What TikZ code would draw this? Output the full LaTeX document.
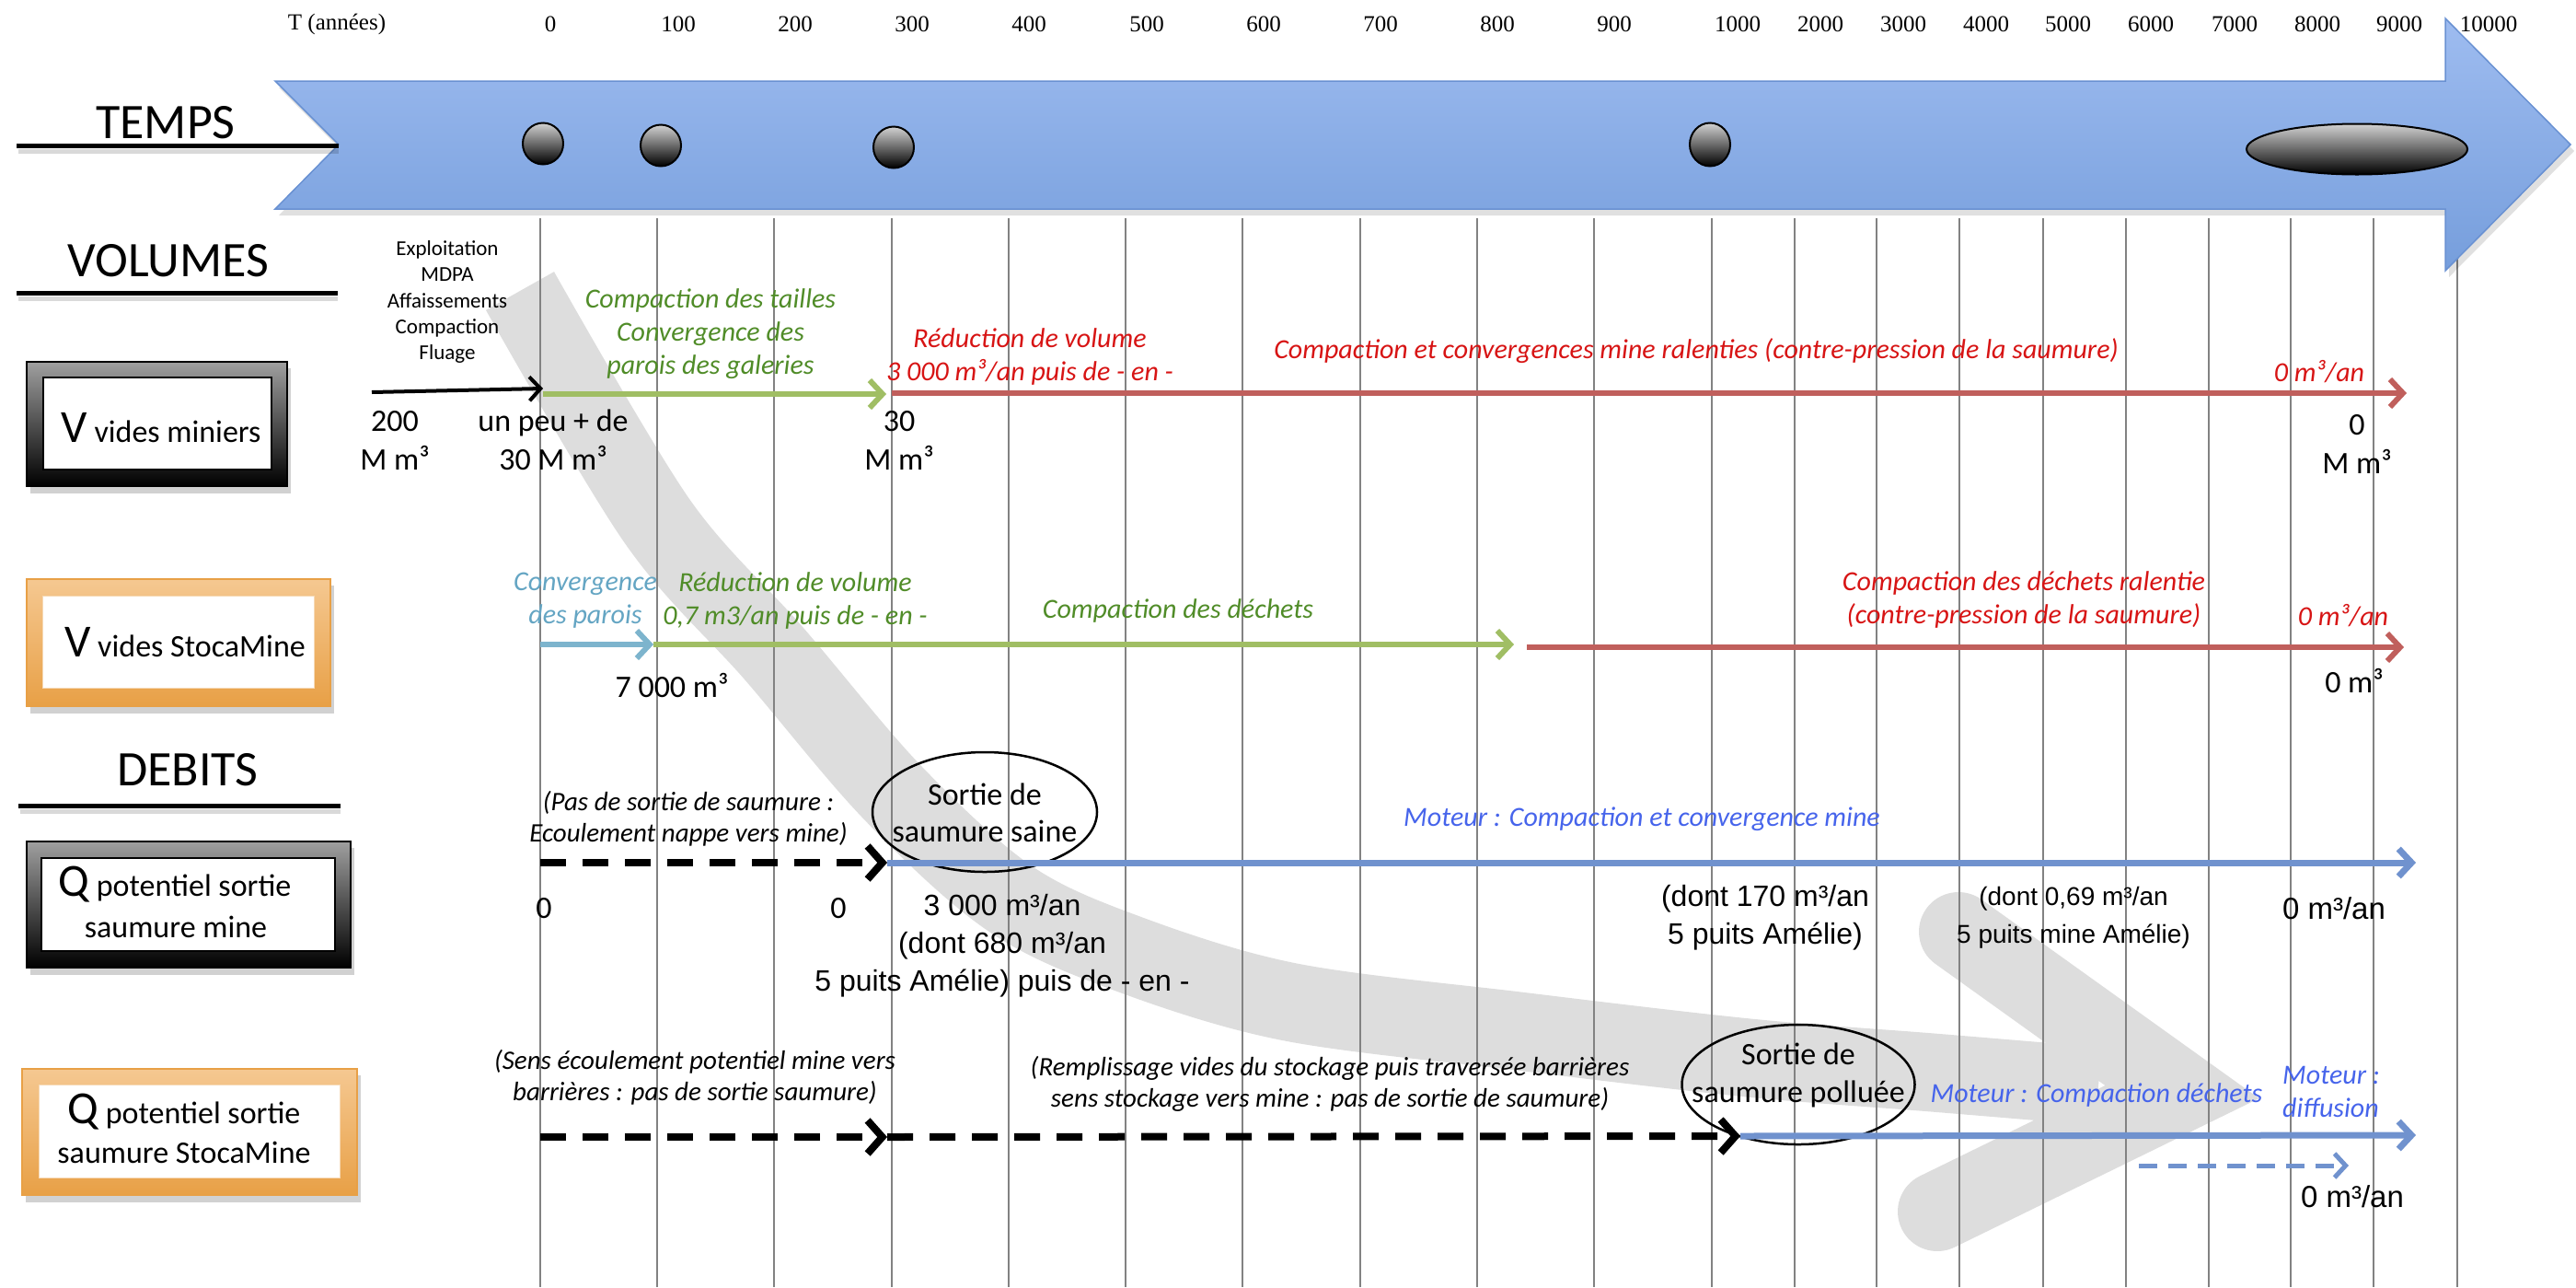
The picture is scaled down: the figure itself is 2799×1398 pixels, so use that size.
\documentclass[tikz,border=0pt]{standalone}
\usepackage{fontspec}
\setmainfont{Carlito}
\newfontfamily\arialf{Liberation Sans}
\newfontfamily\timesf{Liberation Serif}
\usetikzlibrary{arrows.meta,shapes.geometric}
\newcommand{\fs}[2]{\fontsize{#1}{#2}\selectfont}
\definecolor{bandgray}{RGB}{221,221,221}
\definecolor{gridgray}{RGB}{130,130,130}
\definecolor{tgreen}{RGB}{80,140,40}
\definecolor{agreen}{RGB}{160,190,100}
\definecolor{tred}{RGB}{215,20,20}
\definecolor{ared}{RGB}{192,95,92}
\definecolor{tlblue}{RGB}{100,165,195}
\definecolor{alblue}{RGB}{125,180,205}
\definecolor{ablue}{RGB}{112,146,206}
\definecolor{tblue}{RGB}{70,100,235}
\definecolor{arrtop}{RGB}{158,188,240}
\definecolor{arrbot}{RGB}{118,158,220}
\definecolor{arredge}{RGB}{105,145,210}
\definecolor{ortop}{RGB}{245,200,145}
\definecolor{orbot}{RGB}{232,160,70}
\tikzset{
  lbl/.style={inner sep=0pt, align=center, font=\fs{30}{36}\itshape},
  val/.style={inner sep=0pt, align=center, font=\fs{34}{42}},
  valar/.style={inner sep=0pt, align=center, font=\arialf\fs{32}{41}},
  headlbl/.style={inner sep=0pt, font=\fs{54}{54}},
  tick/.style={inner sep=0pt, font=\timesf\fs{25}{25}},
  gridline/.style={gridgray, line width=2pt},
  harrow/.style={line width=6pt, -{Straight Barb[length=14pt,width=30pt]}},
  dasharrow/.style={line width=8pt, dash pattern=on 28pt off 18pt, -{Straight Barb[length=16pt,width=36pt]}},
  darkbox/.style={top color=gray!75, bottom color=black, draw=black, line width=1.5pt},
  orbox/.style={top color=ortop, bottom color=orbot, draw=orbot, line width=1.5pt},
  innerbox/.style={fill=white, draw=black, line width=1.5pt},
  boxshadow/.style={fill=black, opacity=0.18},
  ball/.style={ellipse, draw=black, line width=2pt, top color=gray!35, bottom color=black, inner sep=0pt},
  circ/.style={ellipse, draw=black, line width=2.5pt, inner sep=0pt},
  boxtxt/.style={inner sep=0pt, anchor=base}
}
\begin{document}
\begin{tikzpicture}[x=1pt,y=-1pt]
\useasboundingbox (0,0) rectangle (2799,1398);
% big gray band arrow
\draw[bandgray, line width=85pt] plot[smooth, tension=0.55] coordinates {(565,316) (714,566) (841,710) (969,860) (1096,975) (1223,1035) (1400,1088) (1650,1120) (1900,1149) (2100,1165) (2280,1180)};
\draw[bandgray, line width=86pt, line cap=round, line join=miter] (2128,1012) -- (2371,1186) -- (2105,1316);
% grid
\foreach \x [count=\i] in {587,714,841,969,1096,1223,1350,1478,1605,1732,1860,1950,2039,2129,2220,2310,2400,2489,2579,2670}
  \draw[gridline] (\x,237) coordinate (gt\i) -- (\x,1398) coordinate (gb\i);
% time arrow
\path[fill=black, opacity=0.12] (303,95) -- (2661,95) -- (2661,27) -- (2797,164) -- (2661,301) -- (2661,234) -- (303,234) -- (372,164) -- cycle;
\path[top color=arrtop, bottom color=arrbot, draw=arredge, line width=1.5pt]
  (299,88) -- (2657,88) -- (2657,20) -- (2793,157) -- (2657,294) -- (2657,227) -- (299,227) -- (368,157) -- cycle;
\node[ball, minimum width=44pt, minimum height=45pt] (b0) at (590,156) {};
\node[ball, minimum width=44pt, minimum height=45pt] (b1) at (718,158) {};
\node[ball, minimum width=44pt, minimum height=45pt] (b3) at (971,160) {};
\node[ball, minimum width=44pt, minimum height=47pt] (b10) at (1858,157) {};
\node[ball, minimum width=240pt, minimum height=55pt] (b80) at (2561,162) {};
% ticks
\node[tick] (tT) at (366,26) {T (années)};
\foreach \x/\t [count=\i] in {598/0,737/100,864/200,991/300,1118/400,1246/500,1373/600,1500/700,1627/800,1754/900,1888/1000,1978/2000,2068/3000,2158/4000,2247/5000,2337/6000,2428/7000,2518/8000,2607/9000,2704/10000}
  \node[tick] (tk\i) at (\x,26) {\t};
% section headers
\node[headlbl] (temps) at (180,133) {TEMPS};
\draw[black, opacity=0.15, line width=5pt] (20,164) -- (368,164);
\draw[line width=5pt] (18,158) coordinate (tl1) -- (368,158) coordinate (tl2);
\node[headlbl] (volumes) at (183,283) {VOLUMES};
\draw[black, opacity=0.15, line width=5pt] (20,324) -- (367,324);
\draw[line width=5pt] (18,318) coordinate (vl1) -- (367,318) coordinate (vl2);
\node[headlbl] (debits) at (204,836) {DEBITS};
\draw[black, opacity=0.15, line width=5pt] (22,881) -- (370,881);
\draw[line width=5pt] (20,875) coordinate (dl1) -- (370,875) coordinate (dl2);
% boxes
\path[boxshadow] (33,400) rectangle (316,536);
\path[darkbox] (29,393) rectangle (312,528);
\path[innerbox] (47,410) rectangle (295,510);
\node[boxtxt] (vmin) at (175,480) {\fs{50}{50}V\fs{34}{34} vides miniers};
\path[boxshadow] (33,636) rectangle (363,775);
\path[orbox] (29,629) rectangle (359,767);
\path[innerbox, draw=orbot!40, line width=1pt] (46,647) rectangle (341,747);
\node[boxtxt] (vsto) at (201,713) {\fs{50}{50}V\fs{34}{34} vides StocaMine};
\path[boxshadow] (33,921) rectangle (385,1059);
\path[darkbox] (29,914) rectangle (381,1051);
\path[innerbox] (45,932) rectangle (364,1033);
\node[boxtxt] (qmin1) at (190,973) {\fs{50}{50}Q\fs{34}{34} potentiel sortie};
\node[boxtxt] (qmin2) at (191,1018) {\fs{34}{34}saumure mine};
\path[boxshadow] (28,1168) rectangle (392,1306);
\path[orbox] (24,1161) rectangle (388,1298);
\path[innerbox, draw=orbot!40, line width=1pt] (42,1178) rectangle (369,1279);
\node[boxtxt] (qsto1) at (200,1220) {\fs{50}{50}Q\fs{34}{34} potentiel sortie};
\node[boxtxt] (qsto2) at (200,1263) {\fs{34}{34}saumure StocaMine};
% ---- V vides miniers row
\node[inner sep=0pt, align=center, font=\fs{23}{28.3}] (expl) at (486,328) {Exploitation\\MDPA\\Affaissements\\Compaction\\Fluage};
\coordinate (m0) at (404,426);
\coordinate (m1) at (590,422);
\coordinate (m2) at (590,428);
\coordinate (m3) at (963,428);
\coordinate (m4) at (969,427);
\coordinate (m5) at (2615,427);
\draw[line width=4pt, -{Straight Barb[length=12pt,width=26pt]}] (m0) -- (m1);
\draw[harrow, agreen] (m2) -- (m3);
\draw[harrow, ared] (m4) -- (m5);
\node[val] (v200) at (429,478) {200\\M m³};
\node[val] (vpeu) at (601,478) {un peu + de\\30 M m³};
\node[lbl, text=tgreen] (gtx1) at (772,363) {Compaction des tailles\\Convergence des\\parois des galeries};
\node[val] (v30) at (977,478) {30\\M m³};
\node[lbl, text=tred] (rtx1) at (1119,387) {Réduction de volume\\3 000 m³/an puis de - en -};
\node[lbl, text=tred] (rtx2) at (1843,381) {Compaction et convergences mine ralenties (contre-pression de la saumure)};
\node[lbl, text=tred] (rtx3) at (2520,404) {0 m³/an};
\node[val] (v0) at (2561,482) {0\\M m³};
% ---- V vides StocaMine row
\coordinate (s0) at (587,700);
\coordinate (s1) at (710,700);
\coordinate (s2) at (1645,700);
\coordinate (s3) at (1659,703);
\coordinate (s4) at (2612,703);
\draw[harrow, alblue] (s0) -- (s1);
\draw[harrow, agreen] (s1) -- (s2);
\draw[harrow, ared] (s3) -- (s4);
\node[lbl, text=tlblue] (btx1) at (636,652) {Convergence\\des parois};
\node[lbl, text=tgreen] (gtx2) at (864,652) {Réduction de volume\\0,7 m3/an puis de - en -};
\node[lbl, text=tgreen] (gtx3) at (1280,663) {Compaction des déchets};
\node[lbl, text=tred] (rtx4) at (2199,651) {Compaction des déchets ralentie\\(contre-pression de la saumure)};
\node[lbl, text=tred] (rtx5) at (2546,669) {0 m³/an};
\node[val] (v7000) at (730,744) {7 000 m³};
\node[val] (v0b) at (2558,739) {0 m³};
% ---- Q mine row
\node[lbl, font=\fs{29}{34}\itshape] (pas) at (748,889) {(Pas de sortie de saumure :\\Ecoulement nappe vers mine)};
\node[circ, minimum width=244pt, minimum height=130pt] (csaine) at (1070,882) {};
\node[val, font=\fs{34}{40}] (csainet) at (1070,883) {Sortie de\\saumure saine};
\coordinate (q0) at (587,937);
\coordinate (q1) at (964,937);
\coordinate (q2) at (2625,937);
\draw[dasharrow] (q0) -- (q1);
\draw[harrow, ablue, line width=7pt] (q1) -- (q2);
\node[lbl, text=tblue] (mot1) at (1784,890) {Moteur : Compaction et convergence mine};
\node[val] (z1) at (591,987) {0};
\node[val] (z2) at (911,987) {0};
\node[valar] (d680) at (1089,1027) {3 000 m³/an\\(dont 680 m³/an\\5 puits Amélie) puis de - en -};
\node[valar] (d170) at (1918,997) {(dont 170 m³/an\\5 puits Amélie)};
\node[valar, font=\arialf\fs{28}{41}] (d069) at (2253,997) {(dont 0,69 m³/an\\5 puits mine Amélie)};
\node[valar, font=\arialf\fs{33}{41}] (z3) at (2536,987) {0 m³/an};
% ---- Q StocaMine row
\node[lbl, font=\fs{29}{34}\itshape] (sens) at (755,1170) {(Sens écoulement potentiel mine vers\\barrières : pas de sortie saumure)};
\node[lbl, font=\fs{29}{34}\itshape] (remp) at (1445,1177) {(Remplissage vides du stockage puis traversée barrières\\sens stockage vers mine : pas de sortie de saumure)};
\node[circ, minimum width=253pt, minimum height=130pt] (cpol) at (1954,1178) {};
\node[val, font=\fs{34}{41}] (cpolt) at (1954,1168) {Sortie de\\saumure polluée};
\coordinate (p0) at (587,1235);
\coordinate (p1) at (964,1235);
\coordinate (p2) at (1891,1234);
\coordinate (p3) at (2625,1233);
\coordinate (p4) at (2324,1266);
\coordinate (p5) at (2552,1266);
\draw[dasharrow] (p0) -- (p1);
\draw[dasharrow] (p1) -- (p2);
\draw[harrow, ablue, line width=7pt] (p2) -- (p3);
\draw[ablue, line width=5pt, dash pattern=on 20pt off 12pt, -{Straight Barb[length=12pt,width=26pt]}] (p4) -- (p5);
\node[lbl, text=tblue] (mot2) at (2278,1189) {Moteur : Compaction déchets};
\node[lbl, text=tblue, align=left, anchor=west] (mot3) at (2480,1186) {Moteur :\\diffusion};
\node[valar, font=\arialf\fs{33}{41}] (z4) at (2556,1300) {0 m³/an};
\end{tikzpicture}
\end{document}
